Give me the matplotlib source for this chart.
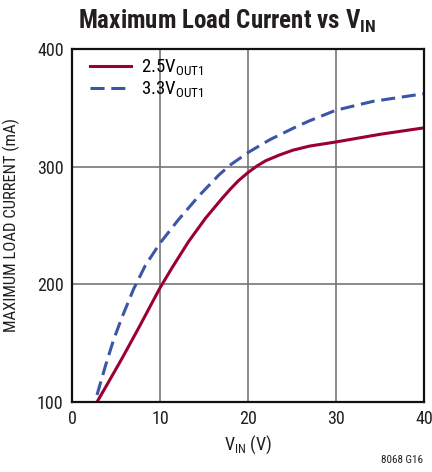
import matplotlib
matplotlib.use("Agg")
import matplotlib.pyplot as plt
from matplotlib import font_manager

# narrow font if one is there, otherwise condensed DejaVu
names = {f.name for f in font_manager.fontManager.ttflist}
fam = "DejaVu Sans"
for cand in ["Liberation Sans Narrow", "Roboto Condensed", "Open Sans Condensed"]:
    if cand in names:
        fam = cand
        break
plt.rcParams['font.family'] = [fam, 'DejaVu Sans']
plt.rcParams['font.stretch'] = 'condensed'
plt.rcParams['mathtext.fontset'] = 'custom'
plt.rcParams['mathtext.rm'] = fam

# data
vin_25 = [2.84, 4, 5.68, 7.58, 10.0, 11.36, 13.26, 15.15, 17.05, 18.0, 18.9, 20.0,
          21.0, 22.0, 23.6, 25.1, 27.0, 30, 35, 40]
cur_25 = [100, 115, 137, 163, 197, 214, 236.5, 256, 273, 281, 288, 295,
          300.5, 305, 310, 314, 317.5, 321, 327.5, 333]

vin_33 = [2.84, 3.8, 4.73, 5.68, 7.0, 8.33, 10.0, 12.1, 14.4, 16.7, 18.0, 20.0,
          22.5, 25.5, 27.0, 30, 34.2, 40]
cur_33 = [106, 130.8, 153, 172, 196, 216, 235, 255, 275, 293, 301.5, 312,
          323, 334, 339, 348, 355.5, 362]

x_ticks = [0, 10, 20, 30, 40]
y_ticks = [100, 200, 300, 400]

fig = plt.figure(figsize=(4.32, 4.72), dpi=100)
ax = fig.add_axes([0.1667, 0.1483, 0.8148, 0.7479])

ax.plot(vin_25, cur_25, color="#9b0034", lw=2.2, label=r"2.5V$_{\mathregular{OUT1}}$")
ax.plot(vin_33, cur_33, color="#3b56a6", lw=2.2, dashes=(4.6, 2.2),
        label=r"3.3V$_{\mathregular{OUT1}}$")

ax.set_xlim(0, 40)
ax.set_ylim(100, 400)
ax.set_xticks(x_ticks)
ax.set_yticks(y_ticks)
ax.tick_params(length=0, labelsize=13, pad=6, colors="#231f20")
ax.grid(True, color="#777777", lw=1.2)
for s in ax.spines.values():
    s.set_linewidth(1.6)
    s.set_color("#111111")

ax.set_xlabel(r"V$_{\mathregular{IN}}$ (V)", fontsize=13, color="#231f20", labelpad=4)
ax.set_ylabel("MAXIMUM LOAD CURRENT (mA)", fontsize=12, color="#231f20", labelpad=12)

leg = ax.legend(loc="upper left", bbox_to_anchor=(0.05, 0.975), frameon=False,
                fontsize=13.5, handlelength=2.2, labelspacing=0.1,
                borderaxespad=0, borderpad=0, handletextpad=0.55)

fig.text(0.525, 0.955, r"Maximum Load Current vs V$_{\mathregular{IN}}$", ha="center", va="center",
         fontsize=18, fontweight="bold", color="#231f20")
fig.text(0.98, 0.015, "8068 G16", ha="right", va="bottom", fontsize=8, color="#231f20")

fig.savefig("out.png", dpi=100)
